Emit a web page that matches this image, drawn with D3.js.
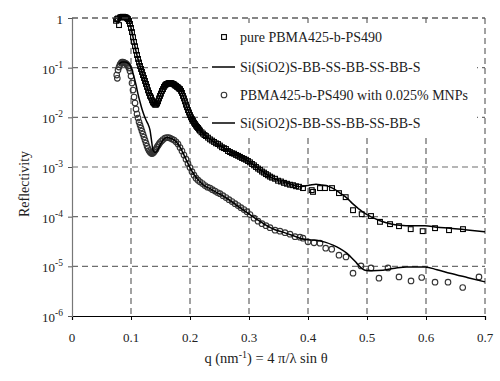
<!DOCTYPE html>
<html>
<head>
<meta charset="utf-8">
<script src="https://cdn.jsdelivr.net/npm/d3@7"></script>
<style>
  body { margin: 0; background: #fff; }
  svg text { font-family: "Liberation Serif", "DejaVu Serif", serif; fill: #222; }
</style>
</head>
<body>
<div id="chart"></div>
<script>
var svgWidth = 500;
var svgHeight = 381;

var margin = { top: 18, right: 15, bottom: 65, left: 72 };
var width = 485 - margin.left;
var height = 316 - margin.top;

// pure PBMA425-b-PS490 (squares)
var pureQ = [0.0746, 0.0763, 0.0780, 0.0797, 0.0814, 0.0831, 0.0847, 0.0864, 0.0881, 0.0898,
  0.0915, 0.0932, 0.0949, 0.0966, 0.0983, 0.1000, 0.1017, 0.1034, 0.1051, 0.1068,
  0.1085, 0.1102, 0.1119, 0.1136, 0.1153, 0.1170, 0.1186, 0.1203, 0.1220, 0.1237,
  0.1254, 0.1271, 0.1288, 0.1305, 0.1322, 0.1339, 0.1356, 0.1373, 0.1390, 0.1407,
  0.1424, 0.1441, 0.1458, 0.1475, 0.1492, 0.1508, 0.1525, 0.1542, 0.1559, 0.1576,
  0.1593, 0.1610, 0.1627, 0.1644, 0.1661, 0.1678, 0.1695, 0.1712, 0.1729, 0.1746,
  0.1763, 0.1780, 0.1797, 0.1814, 0.1831, 0.1848, 0.1864, 0.1881, 0.1898, 0.1915,
  0.1932, 0.1949, 0.1966, 0.1983, 0.2000, 0.2017, 0.2034, 0.2051, 0.2068, 0.2085,
  0.2102, 0.2119, 0.2136, 0.2153, 0.2169, 0.2195, 0.2220, 0.2246, 0.2271, 0.2305,
  0.2339, 0.2373, 0.2407, 0.2441, 0.2475, 0.2508, 0.2542, 0.2576, 0.2610, 0.2644,
  0.2678, 0.2712, 0.2746, 0.2780, 0.2814, 0.2847, 0.2881, 0.2915, 0.2949, 0.2983,
  0.3017, 0.3051, 0.3085, 0.3119, 0.3153, 0.3186, 0.3220, 0.3254, 0.3288, 0.3322,
  0.3356, 0.3390, 0.3441, 0.3492, 0.3542, 0.3593, 0.3644, 0.3695, 0.3746, 0.3797,
  0.3847, 0.3915, 0.4063, 0.4085, 0.4203, 0.4288, 0.4407, 0.4525, 0.4639, 0.4763,
  0.4910, 0.5068, 0.5220, 0.5390, 0.5542, 0.5741, 0.5944, 0.6153, 0.6390, 0.6627];
var pureR = [0.88, 0.95, 0.98, 0.72, 1.02, 1.04, 1.05, 1.06, 1.05, 1.04,
  1.02, 0.99, 0.95, 0.87, 0.76, 0.63, 0.52, 0.41, 0.33, 0.27,
  0.22, 0.18, 0.15, 0.127, 0.108, 0.094, 0.082, 0.071, 0.062, 0.054,
  0.047, 0.041, 0.035, 0.031, 0.027, 0.025, 0.022, 0.020, 0.019, 0.018,
  0.018, 0.019, 0.021, 0.024, 0.027, 0.030, 0.034, 0.037, 0.041, 0.044,
  0.046, 0.047, 0.048, 0.049, 0.049, 0.049, 0.048, 0.047, 0.046, 0.044,
  0.043, 0.041, 0.040, 0.038, 0.037, 0.034, 0.031, 0.027, 0.024, 0.021,
  0.018, 0.016, 0.014, 0.0125, 0.0111, 0.0100, 0.0092, 0.0085, 0.0078, 0.0073,
  0.0068, 0.0064, 0.0061, 0.0057, 0.0054, 0.0050, 0.0047, 0.0044, 0.0042, 0.0039,
  0.0036, 0.0034, 0.0032, 0.0030, 0.0029, 0.0027, 0.0025, 0.0024, 0.0023, 0.0021,
  0.0020, 0.0019, 0.00185, 0.00175, 0.00168, 0.00160, 0.00152, 0.00146, 0.00140, 0.00132,
  0.00124, 0.00115, 0.00108, 0.00100, 0.00093, 0.00088, 0.00081, 0.00077, 0.00072, 0.00068,
  0.00064, 0.00061, 0.00058, 0.00053, 0.00051, 0.00048, 0.00046, 0.00044, 0.00043, 0.00041,
  0.00040, 0.000376, 0.000342, 0.000316, 0.000376, 0.000376, 0.000376, 0.000298, 0.000247, 0.000135,
  0.000112, 0.000103, 0.0000787, 0.0000707, 0.0000644, 0.0000561, 0.0000511, 0.0000587, 0.0000535, 0.0000561];

// fit for pure film
var pureFitQ = [0.0797, 0.0814, 0.0847, 0.0881, 0.0915, 0.0949, 0.0983, 0.1017, 0.1051, 0.1085,
  0.1119, 0.1153, 0.1186, 0.1220, 0.1254, 0.1288, 0.1322, 0.1356, 0.1390, 0.1415,
  0.1458, 0.1492, 0.1525, 0.1559, 0.1593, 0.1627, 0.1661, 0.1695, 0.1729, 0.1763,
  0.1797, 0.1831, 0.1864, 0.1898, 0.1932, 0.1966, 0.2000, 0.2034, 0.2068, 0.2102,
  0.2136, 0.2169, 0.2220, 0.2271, 0.2339, 0.2424, 0.2508, 0.2593, 0.2678, 0.2763,
  0.2847, 0.2932, 0.3017, 0.3102, 0.3186, 0.3271, 0.3356, 0.3441, 0.3525, 0.3610,
  0.3695, 0.3780, 0.3864, 0.3949, 0.4034, 0.4136, 0.4237, 0.4339, 0.4424, 0.4542,
  0.4661, 0.4746, 0.4847, 0.4932, 0.5017, 0.5136, 0.5271, 0.5390, 0.5559, 0.5763,
  0.5983, 0.6186, 0.6407, 0.6661, 0.7000];
var pureFitR = [1.0, 1.02, 1.05, 1.05, 1.02, 0.955, 0.757, 0.522, 0.328, 0.216,
  0.149, 0.108, 0.0817, 0.0618, 0.0468, 0.0354, 0.0274, 0.0223, 0.0189, 0.0181,
  0.0213, 0.0268, 0.0338, 0.0407, 0.0457, 0.0483, 0.0490, 0.0479, 0.0457, 0.0427,
  0.0398, 0.0371, 0.0308, 0.0239, 0.0181, 0.0140, 0.0111, 0.00923, 0.00784, 0.00682,
  0.00608, 0.00541, 0.00471, 0.00419, 0.00365, 0.00310, 0.00270, 0.00235, 0.00204, 0.00182,
  0.00162, 0.00144, 0.00126, 0.00107, 0.000885, 0.000753, 0.000640, 0.000570, 0.000520, 0.000485,
  0.000452, 0.000422, 0.000399, 0.000412, 0.000432, 0.000452, 0.000432, 0.000412, 0.000371, 0.000298,
  0.000236, 0.000187, 0.000148, 0.000123, 0.000107, 0.0000912, 0.0000787, 0.0000723, 0.0000675, 0.0000659,
  0.0000659, 0.0000615, 0.0000587, 0.0000547, 0.0000494];

// PBMA425-b-PS490 with 0.025% MNPs (circles)
var mnpQ = [0.0758, 0.0768, 0.0780, 0.0797, 0.0814, 0.0831, 0.0847, 0.0864, 0.0881, 0.0898,
  0.0915, 0.0932, 0.0949, 0.0966, 0.0983, 0.1000, 0.1017, 0.1034, 0.1051, 0.1068,
  0.1085, 0.1102, 0.1119, 0.1136, 0.1153, 0.1169, 0.1186, 0.1203, 0.1220, 0.1237,
  0.1254, 0.1271, 0.1288, 0.1305, 0.1322, 0.1339, 0.1356, 0.1373, 0.1390, 0.1407,
  0.1424, 0.1441, 0.1458, 0.1475, 0.1492, 0.1517, 0.1542, 0.1576, 0.1605, 0.1636,
  0.1661, 0.1695, 0.1729, 0.1763, 0.1797, 0.1831, 0.1864, 0.1898, 0.1932, 0.1966,
  0.2000, 0.2034, 0.2068, 0.2102, 0.2136, 0.2169, 0.2212, 0.2254, 0.2297, 0.2339,
  0.2381, 0.2424, 0.2466, 0.2508, 0.2559, 0.2610, 0.2661, 0.2712, 0.2763, 0.2814,
  0.2864, 0.2915, 0.2966, 0.3017, 0.3085, 0.3153, 0.3220, 0.3288, 0.3356, 0.3441,
  0.3525, 0.3610, 0.3695, 0.3780, 0.3864, 0.3915, 0.4000, 0.4102, 0.4203, 0.4300,
  0.4402, 0.4525, 0.4644, 0.4763, 0.4898, 0.5068, 0.5203, 0.5356, 0.5542, 0.5746,
  0.5927, 0.6153, 0.6373, 0.6622, 0.6898];
var mnpR = [0.0710, 0.0610, 0.0896, 0.103, 0.1156, 0.124, 0.1298, 0.1298, 0.1269, 0.124,
  0.1211, 0.1156, 0.1078, 0.0983, 0.0855, 0.0678, 0.0490, 0.0354, 0.0256, 0.0194,
  0.01467, 0.01163, 0.00966, 0.00802, 0.00698, 0.00607, 0.00529, 0.00460, 0.00400, 0.00348,
  0.00303, 0.00264, 0.00235, 0.00214, 0.00200, 0.00191, 0.00186, 0.00191, 0.00200, 0.00214,
  0.00229, 0.00252, 0.00270, 0.00289, 0.00310, 0.00332, 0.00356, 0.00382, 0.00391, 0.00391,
  0.00382, 0.00365, 0.00348, 0.00322, 0.00289, 0.00246, 0.00209, 0.00174, 0.00144, 0.00117,
  0.000972, 0.000807, 0.000686, 0.000597, 0.000544, 0.000503, 0.000463, 0.000422, 0.000393, 0.000376,
  0.000350, 0.000327, 0.000305, 0.000291, 0.000265, 0.000242, 0.000220, 0.000201, 0.000183, 0.000167,
  0.000152, 0.000139, 0.000126, 0.000110, 0.0000934, 0.0000812, 0.0000724, 0.0000659, 0.0000601, 0.0000535,
  0.0000511, 0.0000476, 0.0000444, 0.0000396, 0.0000387, 0.0000369, 0.0000311, 0.0000297, 0.0000293, 0.0000232,
  0.0000222, 0.0000168, 0.0000155, 0.00000728, 0.0000102, 0.00000930, 0.00000577, 0.00000930, 0.00000613, 0.00000509,
  0.00000596, 0.00000479, 0.00000479, 0.00000375, 0.00000613];

// fit for film with MNPs
var mnpFitQ = [0.0797, 0.0847, 0.0898, 0.0949, 0.0983, 0.1017, 0.1051, 0.1085, 0.1119, 0.1153,
  0.1186, 0.1220, 0.1254, 0.1288, 0.1322, 0.1347, 0.1373, 0.1407, 0.1441, 0.1492,
  0.1542, 0.1605, 0.1661, 0.1746, 0.1831, 0.1915, 0.2000, 0.2085, 0.2169, 0.2254,
  0.2339, 0.2424, 0.2508, 0.2678, 0.2847, 0.3017, 0.3153, 0.3300, 0.3441, 0.3576,
  0.3729, 0.3864, 0.4000, 0.4147, 0.4288, 0.4424, 0.4542, 0.4656, 0.4746, 0.4825,
  0.4898, 0.4966, 0.5085, 0.5271, 0.5475, 0.5673, 0.5983, 0.6186, 0.6407, 0.6712,
  0.7000];
var mnpFitR = [0.1183, 0.1298, 0.1298, 0.124, 0.1130, 0.0896, 0.0648, 0.0447, 0.0294, 0.0203,
  0.01467, 0.01110, 0.00881, 0.00731, 0.00554, 0.00348, 0.00219, 0.00195, 0.00209, 0.00276,
  0.00348, 0.00391, 0.00382, 0.00340, 0.00252, 0.00158, 0.000972, 0.000655, 0.000503, 0.000412,
  0.000367, 0.000319, 0.000284, 0.000210, 0.000152, 0.000110, 0.0000851, 0.0000659, 0.0000547, 0.0000488,
  0.0000424, 0.0000369, 0.0000344, 0.0000336, 0.0000307, 0.0000267, 0.0000227, 0.0000184, 0.0000146, 0.0000116,
  0.00000939, 0.00000837, 0.00000818, 0.00000837, 0.00000918, 0.00000975, 0.00000975, 0.00000856, 0.00000728, 0.00000591,
  0.00000486];

var xTicks = [0, 0.1, 0.2, 0.3, 0.4, 0.5, 0.6, 0.7];
var yTicks = [1, 1e-1, 1e-2, 1e-3, 1e-4, 1e-5, 1e-6];
var yExponents = ["", "-1", "-2", "-3", "-4", "-5", "-6"];
var legendLabels = ["pure PBMA425-b-PS490", "Si(SiO2)S-BB-SS-BB-SS-BB-S",
  "PBMA425-b-PS490 with 0.025% MNPs", "Si(SiO2)S-BB-SS-BB-SS-BB-S"];

var svg = d3.select("#chart")
  .append("svg")
  .attr("width", svgWidth)
  .attr("height", svgHeight);

var chartGroup = svg.append("g")
  .attr("transform", `translate(${margin.left}, ${margin.top})`);

var xScale = d3.scaleLinear().domain([0, 0.7]).range([0, width]);
var yScale = d3.scaleLog().domain([1e-6, 1]).range([height, 0]);

// dashed grid
chartGroup.append("g")
  .selectAll("line")
  .data(yTicks.slice(0, 6))
  .enter()
  .append("line")
  .attr("x1", 0)
  .attr("x2", width)
  .attr("y1", d => yScale(d))
  .attr("y2", d => yScale(d))
  .attr("stroke", "#6e6e6e")
  .attr("stroke-width", 1.1)
  .attr("stroke-dasharray", "6,4");

chartGroup.append("g")
  .selectAll("line")
  .data(xTicks.slice(1))
  .enter()
  .append("line")
  .attr("x1", d => xScale(d))
  .attr("x2", d => xScale(d))
  .attr("y1", 0)
  .attr("y2", height)
  .attr("stroke", "#555")
  .attr("stroke-width", 1.1)
  .attr("stroke-dasharray", "6,4");

// legend background hides grid behind it
var legend = chartGroup.append("g");
legend.append("rect")
  .attr("x", 137)
  .attr("y", 5)
  .attr("width", 268)
  .attr("height", 114)
  .attr("fill", "#fff");

// axes
var bottomAxis = d3.axisBottom(xScale).tickValues(xTicks).tickSize(4).tickFormat("");
var leftAxis = d3.axisLeft(yScale).tickValues(yTicks).tickSize(4).tickFormat("");

var xAxis = chartGroup.append("g")
  .attr("transform", `translate(0, ${height})`)
  .call(bottomAxis);
xAxis.select(".domain").attr("stroke", "#000").attr("stroke-width", 1.2);
xAxis.selectAll(".tick line").attr("stroke", "#000");

var yAxis = chartGroup.append("g").call(leftAxis);
yAxis.select(".domain").attr("stroke", "#777").attr("stroke-width", 1.2);
yAxis.selectAll(".tick line").attr("stroke", "#555");

chartGroup.append("g")
  .selectAll("text")
  .data(xTicks)
  .enter()
  .append("text")
  .attr("x", d => xScale(d))
  .attr("y", height + 26)
  .attr("text-anchor", "middle")
  .attr("font-size", 13)
  .text(d => d);

var yLabels = chartGroup.append("g")
  .selectAll("text")
  .data(yTicks)
  .enter()
  .append("text")
  .attr("x", -9)
  .attr("y", d => yScale(d) + 6)
  .attr("text-anchor", "end")
  .attr("font-size", 13);
yLabels.each(function(d, i) {
  var t = d3.select(this);
  if (yExponents[i] === "") {
    t.text("1");
  } else {
    t.append("tspan").text("10");
    t.append("tspan").attr("dy", -6).attr("font-size", 9.5).text(yExponents[i]);
  }
});

// axis titles
chartGroup.append("text")
  .attr("transform", "rotate(-90)")
  .attr("x", -(height / 2) - 17)
  .attr("y", -43)
  .attr("text-anchor", "middle")
  .attr("font-size", 14)
  .text("Reflectivity");

var xTitle = chartGroup.append("text")
  .attr("x", 194)
  .attr("y", height + 47)
  .attr("text-anchor", "middle")
  .attr("font-size", 14.5);
xTitle.append("tspan").text("q (nm");
xTitle.append("tspan").attr("dy", -5).attr("font-size", 10).text("-1");
xTitle.append("tspan").attr("dy", 5).text(") = 4 \u03c0/\u03bb sin \u03b8");

// fit lines
var line = d3.line()
  .x(d => xScale(d[0]))
  .y(d => yScale(d[1]))
  .curve(d3.curveMonotoneX);

var pureFit = pureFitQ.map((q, i) => [q, pureFitR[i]]);
var mnpFit = mnpFitQ.map((q, i) => [q, mnpFitR[i]]);

// markers
var pureData = pureQ.map((q, i) => [q, pureR[i]]);
var mnpData = mnpQ.map((q, i) => [q, mnpR[i]]);

chartGroup.append("g")
  .selectAll("circle")
  .data(mnpData)
  .enter()
  .append("circle")
  .attr("cx", d => xScale(d[0]))
  .attr("cy", d => yScale(d[1]))
  .attr("r", 2.8)
  .attr("fill", "none")
  .attr("stroke", "#333")
  .attr("stroke-width", 1.1);

chartGroup.append("path")
  .datum(mnpFit)
  .attr("d", line)
  .attr("fill", "none")
  .attr("stroke", "#000")
  .attr("stroke-width", 1.5);

chartGroup.append("g")
  .selectAll("rect")
  .data(pureData)
  .enter()
  .append("rect")
  .attr("x", d => xScale(d[0]) - 2.4)
  .attr("y", d => yScale(d[1]) - 2.4)
  .attr("width", 4.8)
  .attr("height", 4.8)
  .attr("fill", "none")
  .attr("stroke", "#000")
  .attr("stroke-width", 1.1);

chartGroup.append("path")
  .datum(pureFit)
  .attr("d", line)
  .attr("fill", "none")
  .attr("stroke", "#000")
  .attr("stroke-width", 1.5);

// top frame (dashed)
chartGroup.append("line")
  .attr("x1", 0).attr("x2", width).attr("y1", 0).attr("y2", 0)
  .attr("stroke", "#555").attr("stroke-width", 1.1).attr("stroke-dasharray", "6,4");

// legend entries
var legendRows = [19, 49, 77, 105];
legend.append("rect")
  .attr("x", 149.6).attr("y", legendRows[0] - 2.4).attr("width", 4.8).attr("height", 4.8)
  .attr("fill", "#fff").attr("stroke", "#000").attr("stroke-width", 1.1);
legend.append("circle")
  .attr("cx", 152).attr("cy", legendRows[2]).attr("r", 2.8)
  .attr("fill", "#fff").attr("stroke", "#333").attr("stroke-width", 1.1);
[1, 3].forEach(function(i) {
  legend.append("line")
    .attr("x1", 140).attr("x2", 163)
    .attr("y1", legendRows[i]).attr("y2", legendRows[i])
    .attr("stroke", "#000").attr("stroke-width", 1.5);
});
legend.selectAll("text.lbl")
  .data(legendLabels)
  .enter()
  .append("text")
  .attr("class", "lbl")
  .attr("x", 168)
  .attr("y", (d, i) => legendRows[i] + 5)
  .attr("font-size", 14)
  .text(d => d);
</script>
</body>
</html>
